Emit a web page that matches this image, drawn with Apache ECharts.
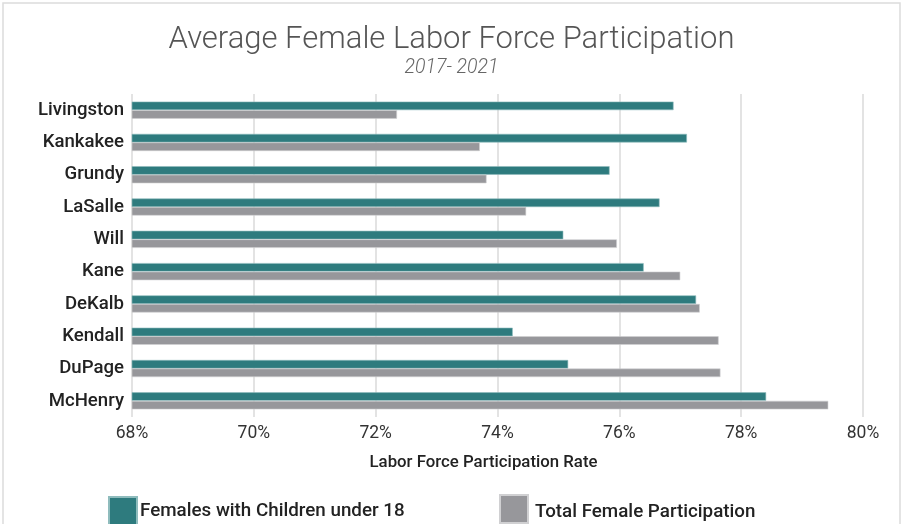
<!DOCTYPE html>
<html>
<head>
<meta charset="utf-8">
<script src="https://cdn.jsdelivr.net/npm/echarts@6/dist/echarts.min.js"></script>
<style>
html,body{margin:0;padding:0;background:#fff;}
#chart{width:903px;height:524px;}
</style>
</head>
<body>
<div id="chart"></div>
<script>
const categories = ['Livingston','Kankakee','Grundy','LaSalle','Will','Kane','DeKalb','Kendall','DuPage','McHenry'];
const withChildren = [76.89, 77.11, 75.84, 76.66, 75.08, 76.40, 77.26, 74.25, 75.16, 78.41];
const totalFemale = [72.35, 73.71, 73.82, 74.47, 75.96, 77.00, 77.32, 77.63, 77.66, 79.43];
const seriesNames = ['Females with Children under 18', 'Total Female Participation'];
const titleText = 'Average Female Labor Force Participation';
const subtitleText = '2017- 2021';
const axisName = 'Labor Force Participation Rate';

const chart = echarts.init(document.getElementById('chart'), null, {renderer:'canvas'});
chart.setOption({
  backgroundColor: '#fff',
  animation: false,
  graphic: [{
    type: 'rect',
    shape: {x: 3, y: 3, width: 897, height: 540},
    style: {fill: 'none', stroke: '#dcdcdc', lineWidth: 1.5},
    silent: true, z: -1
  }],
  title: {
    text: titleText,
    subtext: subtitleText,
    left: 'center',
    top: 20,
    itemGap: 2,
    textStyle: {fontFamily: 'Roboto', fontWeight: 300, fontSize: 31, color: '#555'},
    subtextStyle: {fontFamily: 'Roboto', fontStyle: 'italic', fontWeight: 300, fontSize: 19.5, color: '#666'}
  },
  legend: [{
    data: [seriesNames[0]],
    left: 103, top: 491,
    icon: 'rect', itemWidth: 28, itemHeight: 28, itemGap: 0,
    textStyle: {fontFamily: 'Roboto', fontWeight: 500, fontSize: 18.8, color: '#222', padding: [0,0,0,-2]}
  },{
    data: [seriesNames[1]],
    left: 494, top: 489,
    icon: 'rect', itemWidth: 28, itemHeight: 28, itemGap: 0,
    formatter: '{a|{name}}',
    textStyle: {
      fontFamily: 'Roboto', fontWeight: 500, fontSize: 18.8, color: '#222', padding: [0,0,0,2],
      rich: {a: {fontFamily: 'Roboto', fontWeight: 500, fontSize: 18.8, color: '#222', padding: [7,0,0,0]}}
    }
  }],
  grid: {left: 132, right: 40, top: 94, bottom: 107, containLabel: false},
  xAxis: {
    type: 'value', min: 68, max: 80, interval: 2,
    axisLine: {show: false}, axisTick: {show: false},
    axisLabel: {formatter: '{value}%', fontFamily: 'Roboto', fontSize: 17.5, color: '#333', margin: 8},
    splitLine: {show: true, lineStyle: {color: '#dadada', width: 1.5}},
    name: axisName, nameLocation: 'middle', nameGap: 37,
    nameTextStyle: {fontFamily: 'Roboto', fontWeight: 500, fontSize: 16.8, color: '#222', padding: [0, 28, 0, 0]}
  },
  yAxis: {
    type: 'category', data: categories, inverse: true,
    axisLine: {show: false}, axisTick: {show: false},
    axisLabel: {fontFamily: 'Roboto', fontWeight: 500, fontSize: 18.6, color: '#222', margin: 8}
  },
  series: [{
    name: seriesNames[0], type: 'bar', data: withChildren,
    barGap: '0%', barCategoryGap: '47%',
    itemStyle: {color: '#2e7b7e', borderColor: '#8fbcbd', borderWidth: 0.6}
  },{
    name: seriesNames[1], type: 'bar', data: totalFemale,
    barGap: '0%', barCategoryGap: '47%',
    itemStyle: {color: '#97979b', borderColor: '#d0d0d2', borderWidth: 0.6}
  }]
});
</script>
</body>
</html>
